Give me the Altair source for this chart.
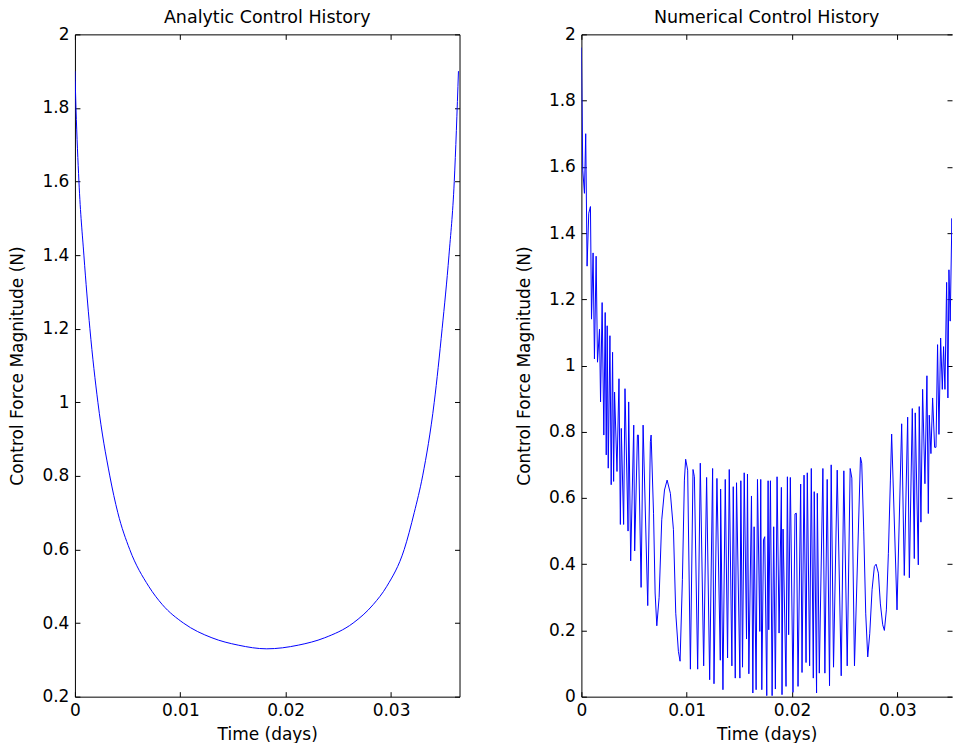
import altair as alt
import pandas as pd

# ---------------- data ----------------
ana_t = [0, 0.0001, 0.00038, 0.00085, 0.00142, 0.00218, 0.00331, 0.00407, 0.0052, 0.007,
         0.0083, 0.0103, 0.013, 0.0155, 0.0182, 0.0212, 0.0237, 0.0264, 0.0283, 0.0296,
         0.03125, 0.0322, 0.033, 0.0341, 0.03485, 0.0355, 0.036, 0.0364]
ana_v = [1.9, 1.8, 1.6, 1.4, 1.2, 1.0, 0.8, 0.7, 0.6, 0.5,
         0.45, 0.4, 0.36, 0.34, 0.33, 0.34, 0.36, 0.4, 0.45, 0.5,
         0.6, 0.7, 0.8, 1.0, 1.2, 1.4, 1.6, 1.9]

num_t = [0, 0.00013, 0.00029, 0.00041, 0.00054, 0.0007, 0.00086, 0.00096, 0.00111, 0.00124,
         0.0014, 0.00153, 0.00172, 0.00182, 0.00197, 0.00213, 0.00226, 0.00236, 0.00245, 0.00255,
         0.00271, 0.00283, 0.00296, 0.00306, 0.00315, 0.00338, 0.00357, 0.0037, 0.00379, 0.00401,
         0.00414, 0.00443, 0.00449, 0.00468, 0.00497, 0.00506, 0.00532, 0.00541, 0.00567, 0.00586,
         0.0063, 0.00655, 0.00662, 0.00685, 0.007, 0.00716, 0.00738, 0.00763, 0.00789, 0.00814,
         0.00845, 0.00874, 0.00896, 0.00921, 0.00937, 0.00959, 0.00978, 0.0099,
         0.01009, 0.01035, 0.0106, 0.01073, 0.01104, 0.01129, 0.01161, 0.01189, 0.01218, 0.01246,
         0.01259, 0.01287, 0.01319, 0.01322, 0.01344, 0.01366, 0.01388, 0.01404, 0.01429, 0.01442,
         0.01461, 0.01473, 0.01505, 0.01514, 0.0153, 0.01546, 0.01568, 0.01577, 0.0159, 0.01615,
         0.01628, 0.0164, 0.01659, 0.01672, 0.01694, 0.01703, 0.01713, 0.01729, 0.01741, 0.0176,
         0.01773, 0.01779, 0.01795, 0.01811, 0.01826, 0.01842, 0.01858, 0.01877, 0.01899, 0.01905,
         0.01915, 0.01943, 0.01956, 0.01968, 0.01984, 0.02009, 0.02028, 0.02041, 0.02057, 0.02082,
         0.02095, 0.02114, 0.02133, 0.02145, 0.02167, 0.02183, 0.02202, 0.02211, 0.02233, 0.0224,
         0.02259, 0.02293, 0.02312, 0.02334, 0.02356, 0.02372, 0.02394, 0.02429, 0.02467, 0.02492,
         0.02524, 0.02552, 0.02568, 0.02593, 0.0265, 0.02662, 0.02681, 0.027, 0.02719, 0.02738,
         0.0276, 0.02782, 0.02798, 0.0282, 0.02839, 0.02861, 0.02877, 0.02896, 0.02915, 0.02934,
         0.02946,
         0.02997, 0.03041, 0.03066, 0.03098, 0.03114, 0.03142, 0.03161, 0.0317, 0.03199, 0.03208,
         0.03224, 0.0324, 0.03262, 0.03281, 0.03294, 0.03303, 0.03319, 0.03335, 0.03354, 0.03367,
         0.03382, 0.03395, 0.03411, 0.03427, 0.03439, 0.03452, 0.03468, 0.0348, 0.0349, 0.03502,
         0.03518, 0.03537, 0.03553, 0.03566, 0.03581, 0.036]
num_v = [1.96, 1.59, 1.52, 1.70, 1.30, 1.46, 1.48, 1.14, 1.34, 1.02,
         1.33, 1.01, 1.11, 0.89, 1.19, 0.79, 1.16, 0.73, 1.12, 0.69,
         1.09, 0.64, 1.04, 0.65, 0.92, 0.68, 0.96, 0.52, 0.81, 0.52,
         0.93, 0.50, 0.89, 0.41, 0.82, 0.44, 0.79, 0.79, 0.33, 0.82,
         0.275, 0.77, 0.79, 0.554, 0.313, 0.214, 0.30, 0.534, 0.624, 0.654,
         0.614, 0.504, 0.252, 0.137, 0.107, 0.353, 0.654, 0.717,
         0.684, 0.083, 0.686, 0.664, 0.083, 0.705, 0.093, 0.662, 0.051, 0.689,
         0.039, 0.659, 0.11, 0.627, 0.021, 0.656, 0.117, 0.686, 0.093, 0.634,
         0.056, 0.646, 0.056, 0.652, 0.089, 0.676, 0.174, 0.672, 0.069, 0.606,
         0.011, 0.513, 0.021, 0.656, 0.197, 0.656, 0.021, 0.473, 0.483, 0.003,
         0.652, 0.202, 0.652, 0.003, 0.513, 0.023, 0.664, 0.192, 0.632, 0.006,
         0.506, 0.031, 0.664, 0.187, 0.662, 0.013, 0.552, 0.554, 0.031, 0.642,
         0.073, 0.669, 0.103, 0.676, 0.093, 0.689, 0.056, 0.619, 0.011, 0.614,
         0.071, 0.689, 0.071, 0.656, 0.033, 0.70, 0.089, 0.684, 0.063, 0.682,
         0.093, 0.689, 0.66, 0.093, 0.723, 0.705, 0.50, 0.25, 0.12, 0.19,
         0.323, 0.393, 0.40, 0.373, 0.28, 0.217, 0.20, 0.262, 0.433, 0.654,
         0.793,
         0.262, 0.824, 0.366, 0.844, 0.359, 0.87, 0.417, 0.857, 0.398, 0.876,
         0.527, 0.928, 0.643, 0.969, 0.553, 0.85, 0.734, 0.902, 0.753, 0.753,
         1.063, 0.792, 1.083, 0.928, 1.057, 0.928, 1.251, 0.902, 1.289, 1.134,
         1.444, 1.251, 1.561, 1.406, 1.651, 1.75]

x_ticks = [0, 0.01, 0.02, 0.03]
left_y_ticks = [0.2, 0.4, 0.6, 0.8, 1.0, 1.2, 1.4, 1.6, 1.8, 2.0]
right_y_ticks = [0, 0.2, 0.4, 0.6, 0.8, 1.0, 1.2, 1.4, 1.6, 1.8, 2.0]

FONT = "DejaVu Sans"
H = 663
W_L = 385
W_R = 371


def panel(t, v, title, xdom, ydom, yvals, w, right_frame, interp):
    df = pd.DataFrame({"t": t, "v": v, "i": list(range(len(t)))})
    corners = pd.DataFrame({"t": [xdom[0], xdom[1]], "v": [ydom[0], ydom[1]]})
    xs = alt.Scale(domain=xdom, nice=False, zero=False)
    ys = alt.Scale(domain=ydom, nice=False, zero=False)

    line = alt.Chart(df).mark_line(
        color="#0000ff", strokeWidth=1, interpolate=interp, clip=True
    ).encode(
        x=alt.X("t:Q", scale=xs, axis=alt.Axis(
            values=x_ticks, format="~g", title="Time (days)", ticks=False,
            labelPadding=6, titlePadding=8, labelFlush=False, labelOverlap=False)),
        y=alt.Y("v:Q", scale=ys, axis=alt.Axis(
            values=yvals, format="~g", title="Control Force Magnitude (N)", ticks=False,
            labelPadding=6, titlePadding=15, labelOverlap=False)),
        order=alt.Order("i:Q"),
    )

    inner1 = alt.Chart(corners).mark_point(size=0, opacity=0).encode(
        x=alt.X("t:Q", scale=xs, axis=alt.Axis(
            orient="top", offset=-H, values=x_ticks, labels=False, title=None,
            ticks=True, tickSize=5, domain=False, minExtent=0)),
        y=alt.Y("v:Q", scale=ys, axis=alt.Axis(
            orient="right", offset=-w, values=yvals, labels=False, title=None,
            ticks=True, tickSize=5, domain=False, minExtent=0)),
    )
    inner2 = alt.Chart(corners).mark_point(size=0, opacity=0).encode(
        x=alt.X("t:Q", scale=xs, axis=alt.Axis(
            orient="bottom", offset=-H, values=x_ticks, labels=False, title=None,
            ticks=True, tickSize=5, domain=True, minExtent=0)),
        y=alt.Y("v:Q", scale=ys, axis=alt.Axis(
            orient="left", offset=-w, values=yvals, labels=False, title=None,
            ticks=True, tickSize=5, domain=right_frame, minExtent=0)),
    )
    return alt.layer(line, inner1, inner2).resolve_axis(
        x="independent", y="independent"
    ).properties(width=w, height=H, title=alt.Title(title, frame="group"))


left = panel(ana_t, ana_v, "Analytic Control History", [0, 0.0365], [0.2, 2.0],
             left_y_ticks, W_L, True, "monotone")
right = panel(num_t, num_v, "Numerical Control History", [0, 0.03519], [0, 2.0],
              right_y_ticks, W_R, False, "linear")

chart = alt.hconcat(left, right, spacing=54).configure(
    padding={"left": 0, "top": 0, "right": 0, "bottom": 0}
).configure_axis(
    grid=False,
    labelFont=FONT, labelFontSize=17, labelColor="black",
    titleFont=FONT, titleFontSize=17, titleFontWeight="normal", titleColor="black",
    domainColor="black", domainWidth=1, tickColor="black", tickWidth=1,
).configure_title(
    font=FONT, fontSize=17.5, fontWeight="normal", color="black", offset=-1, anchor="middle"
).configure_view(stroke=None)

chart.save("out.html", embed_options={"renderer": "svg", "actions": False})
